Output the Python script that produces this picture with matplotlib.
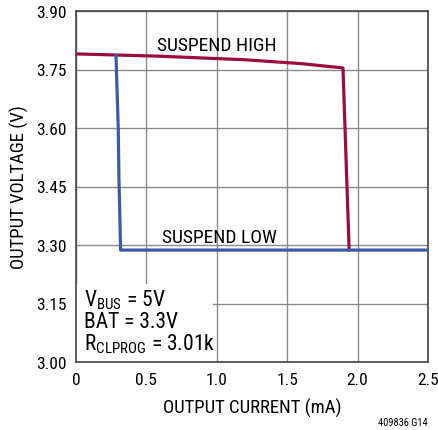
import matplotlib
matplotlib.use('Agg')
import matplotlib.pyplot as plt
from matplotlib.patches import Rectangle

# Data
high_current = [0.0, 0.6, 1.2, 1.6, 1.896, 1.92, 1.94]
high_voltage = [3.790, 3.784, 3.775, 3.765, 3.754, 3.50, 3.287]

low_current = [0.284, 0.30, 0.305, 0.317, 2.5]
low_voltage = [3.786, 3.60, 3.47, 3.287, 3.287]

x_ticks = [0, 0.5, 1.0, 1.5, 2.0, 2.5]
x_tick_labels = ['0', '0.5', '1.0', '1.5', '2.0', '2.5']
y_ticks = [3.00, 3.15, 3.30, 3.45, 3.60, 3.75, 3.90]

plt.rcParams['font.family'] = ['Roboto Condensed', 'Liberation Sans Narrow', 'Roboto', 'DejaVu Sans']

fig = plt.figure(figsize=(4.39, 4.31), dpi=100)
ax = fig.add_axes([76 / 439, 68 / 431, 352 / 439, 351 / 431])

ax.set_xlim(0, 2.5)
ax.set_ylim(3.0, 3.9)
ax.set_xticks(x_ticks)
ax.set_xticklabels(x_tick_labels)
ax.set_yticks(y_ticks)
ax.set_yticklabels(['%.2f' % v for v in y_ticks])
ax.tick_params(length=0, labelsize=12.5, pad=7)
ax.grid(True, color='#8a8a8a', linewidth=1.0)
ax.set_axisbelow(True)
for s in ax.spines.values():
    s.set_color('#444444')
    s.set_linewidth(1.2)

ax.plot(high_current, high_voltage, color='#9b0d3a', linewidth=2.3, zorder=3)
ax.plot(low_current, low_voltage, color='#3c5aa8', linewidth=2.3, zorder=3)

ax.text(0.575, 3.801, 'SUSPEND HIGH', fontsize=14, va='baseline', ha='left')
ax.text(0.61, 3.307, 'SUSPEND LOW', fontsize=14, va='baseline', ha='left')

# white box behind the conditions text
ax.add_patch(Rectangle((0, 3.0), 0.973, 0.2, facecolor='white', edgecolor='none', zorder=2))
ax.text(0.057, 3.144, r'V$_{\mathregular{BUS}}$ = 5V', fontsize=15.5, va='baseline', zorder=4)
ax.text(0.057, 3.090, 'BAT = 3.3V', fontsize=15.5, va='baseline', zorder=4)
ax.text(0.057, 3.033, r'R$_{\mathregular{CLPROG}}$ = 3.01k', fontsize=15.5, va='baseline', zorder=4)

ax.set_xlabel('OUTPUT CURRENT (mA)', fontsize=13.5, labelpad=8)
ax.set_ylabel('OUTPUT VOLTAGE (V)', fontsize=13.5, labelpad=5)

fig.text(428 / 439, 1 - 423 / 431, '409836 G14', fontsize=7.5, ha='right', va='center')

plt.savefig('out.png', dpi=100)
